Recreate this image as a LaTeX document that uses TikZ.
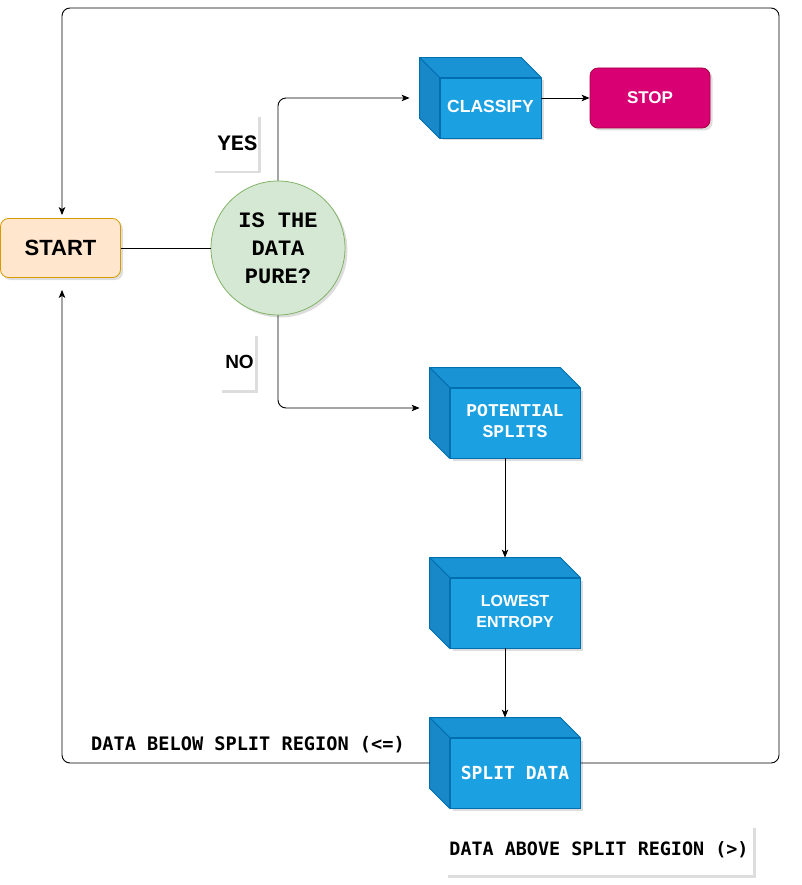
\documentclass[tikz,border=0pt]{standalone}
\usepackage{fontspec}
\setmainfont{Liberation Sans}
\newfontfamily\courfam{Liberation Mono}
\newfontfamily\djmfam{DejaVu Sans Mono}
\usetikzlibrary{shadows,backgrounds,calc,arrows.meta}
\definecolor{startfill}{HTML}{FFE6CC}
\definecolor{startdraw}{HTML}{D79B00}
\definecolor{purefill}{HTML}{D5E8D4}
\definecolor{puredraw}{HTML}{82B366}
\definecolor{cubefront}{HTML}{1BA1E2}
\definecolor{cubetop}{HTML}{1A93D4}
\definecolor{cubeside}{HTML}{1988C8}
\definecolor{cubedraw}{HTML}{006EAF}
\definecolor{stopfill}{HTML}{D80073}
\definecolor{stopdraw}{HTML}{A50040}
\newcommand\cubeback[1]{%
  \begin{scope}[on background layer]
    \filldraw[fill=cubetop, draw=cubedraw, line width=0.8pt, line join=round]
      (#1.north west) -- ++(-20,-20) -- ([shift={(-20,-20)}]#1.north east) -- (#1.north east) -- cycle;
    \filldraw[fill=cubeside, draw=cubedraw, line width=0.8pt, line join=round]
      (#1.north west) -- ++(-20,-20) -- ([shift={(-20,-20)}]#1.south west) -- (#1.south west) -- cycle;
  \end{scope}}
\begin{document}
\begin{tikzpicture}[x=1pt,y=-1pt,
  shd/.style={drop shadow={shadow xshift=2.5pt, shadow yshift=-2.5pt, opacity=0.22, fill=black!60}},
  startbox/.style={rounded corners=8pt, fill=startfill, draw=startdraw, line width=0.8pt,
    minimum width=120pt, minimum height=59pt, inner sep=0pt, shd,
    font=\bfseries\fontsize{22}{26}\selectfont},
  purecirc/.style={circle, fill=purefill, draw=puredraw, line width=0.8pt, minimum size=134pt,
    inner sep=0pt, align=center, shd, font=\courfam\bfseries\fontsize{22}{28}\selectfont},
  cubebox/.style={fill=cubefront, draw=cubedraw, line width=0.8pt, minimum width=130pt,
    minimum height=70pt, inner sep=0pt, text=white, align=center, shd},
  stopbox/.style={rounded corners=8pt, fill=stopfill, draw=stopdraw, line width=0.8pt,
    minimum width=120pt, minimum height=60pt, inner sep=0pt, text=white, shd,
    font=\bfseries\fontsize{17}{20}\selectfont},
  lbl/.style={fill=white, inner sep=0pt, shd},
  edge/.style={line width=0.9pt, draw=black},
  arr/.style={edge, -{Stealth[length=8pt,width=6.5pt,inset=2pt]}}
]
\useasboundingbox (0,0) rectangle (801,885);

% nodes
\node[startbox] (start) at (60.5,248) {START};
\node[purecirc] (pure) at (278,248) {IS THE\\DATA\\PURE?};
\node[cubebox, minimum width=101pt, minimum height=60pt,
      font=\bfseries\fontsize{17.5}{20}\selectfont] (cls) at (490.5,108) {\raisebox{3pt}{CLASSIFY}};
\node[stopbox] (stop) at (650,98) {\raisebox{1pt}{STOP}};
\node[cubebox, font=\courfam\bfseries\fontsize{18}{21}\selectfont] (pot) at (515,423)
   {\raisebox{2pt}{\begin{tabular}{@{}c@{}}POTENTIAL\\SPLITS\end{tabular}}};
\node[cubebox, font=\bfseries\fontsize{16}{21}\selectfont] (low) at (515,613)
   {\raisebox{2pt}{\begin{tabular}{@{}c@{}}LOWEST\\ENTROPY\end{tabular}}};
\node[cubebox, font=\djmfam\bfseries\fontsize{18}{21}\selectfont] (split) at (515,773) {\raisebox{1pt}{SPLIT DATA}};
\cubeback{cls}
\cubeback{pot}
\cubeback{low}
\cubeback{split}

% labels
\node[lbl, minimum width=46pt, minimum height=56pt, font=\courfam\bfseries\fontsize{22}{26}\selectfont]
  (yes) at (235,143) {\hspace*{5pt}YES};
\node[lbl, minimum width=36pt, minimum height=57pt, font=\bfseries\fontsize{19}{22}\selectfont]
  (no) at (237,361.5) {\hspace*{5pt}NO};
\node[font=\djmfam\bfseries\fontsize{18.6}{21}\selectfont] (below) at (248,745) {DATA BELOW SPLIT REGION (<=)};
\node[lbl, minimum width=308pt, minimum height=50pt, font=\djmfam\bfseries\fontsize{18.4}{21}\selectfont]
  (above) at (599,850) {DATA ABOVE SPLIT REGION (>)};

% connectors
\draw[edge] (start.east) -- (pure.west);
\draw[arr, rounded corners=8pt] (pure.north) |- ([xshift=-30pt,yshift=10pt]cls.west);
\draw[arr, rounded corners=8pt] (pure.south) |- ([xshift=-30pt,yshift=15pt]pot.west);
\draw[arr] ([yshift=10pt]cls.east) -- (stop.west);
\draw[arr] ([xshift=-10pt]pot.south) -- ([xshift=-10pt,yshift=20pt]low.north);
\draw[arr] ([xshift=-10pt]low.south) -- ([xshift=-10pt,yshift=20pt]split.north);
\draw[arr, rounded corners=8pt] ([yshift=10pt]split.east) -| (779,8) -| ([xshift=1.5pt,yshift=3pt]start.north);
\draw[arr, rounded corners=8pt] ([xshift=-20pt,yshift=10pt]split.west) -| ([xshift=1.5pt,yshift=-12pt]start.south);
\end{tikzpicture}
\end{document}
